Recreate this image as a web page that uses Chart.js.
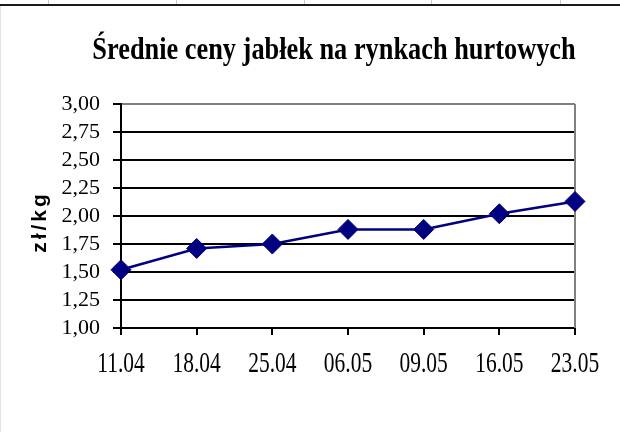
<!DOCTYPE html>
<html>
<head>
<meta charset="utf-8">
<script src="https://cdn.jsdelivr.net/npm/chart.js@4.4.1/dist/chart.umd.min.js"></script>
<style>
    html, body { margin: 0; padding: 0; background: #fff; }
    #wrap { position: relative; width: 620px; height: 432px; overflow: hidden; }
    #chart { position: absolute; left: 0; top: 0; }
    .rule { position: absolute; left: 0; top: 4px; width: 620px; height: 2px; background: #1a1a1a; }
    .cell { position: absolute; top: 0; width: 1px; height: 4px; background: #c8c8c8; }
    .side { position: absolute; left: 0; top: 6px; width: 1px; height: 426px; background: #e2e2e2; }
</style>
</head>
<body>
<div id="wrap">
    <div class="cell" style="left:48px"></div>
    <div class="cell" style="left:176px"></div>
    <div class="cell" style="left:304px"></div>
    <div class="cell" style="left:431px"></div>
    <div class="cell" style="left:560px"></div>
    <div class="rule"></div>
    <div class="side"></div>
    <canvas id="chart" width="620" height="432"></canvas>
</div>
<script>
const chartTitle = 'Średnie ceny jabłek na rynkach hurtowych';
const yAxisTitle = 'zł/kg';
const dates = ['11.04', '18.04', '25.04', '06.05', '09.05', '16.05', '23.05'];
const prices = [1.52, 1.71, 1.75, 1.88, 1.88, 2.02, 2.13];
const yMin = 1.00;
const yMax = 3.00;
const yStep = 0.25;

// Excel-style text is horizontally squeezed, so title, x labels and axis title are drawn here
const squeezedText = {
    id: 'squeezedText',
    afterDraw(chart) {
        const ctx = chart.ctx;
        const xs = chart.scales.x;
        const area = chart.chartArea;
        ctx.save();
        ctx.fillStyle = '#000';
        ctx.textAlign = 'center';
        ctx.textBaseline = 'alphabetic';

        ctx.font = '29px "Liberation Serif"';
        xs.ticks.forEach((t, i) => {
            ctx.save();
            ctx.translate(xs.getPixelForTick(i), area.bottom + 44);
            ctx.scale(0.74, 1);
            ctx.fillText(xs.getLabelForValue(t.value), 0, 0);
            ctx.restore();
        });

        ctx.font = 'bold 31px "Liberation Serif"';
        ctx.save();
        ctx.translate(334, 59);
        ctx.scale(0.85, 1);
        ctx.fillText(chartTitle, 0, 0);
        ctx.restore();

        ctx.font = 'bold 21px "Liberation Sans"';
        ctx.letterSpacing = '3px';
        ctx.save();
        ctx.translate(46, (area.top + area.bottom) / 2 + 6);
        ctx.rotate(-Math.PI / 2);
        ctx.fillText(yAxisTitle, 0, 0);
        ctx.restore();

        ctx.restore();
    },
    beforeDatasetsDraw(chart) {
        const ctx = chart.ctx;
        const area = chart.chartArea;
        ctx.save();
        ctx.strokeStyle = '#808080';
        ctx.lineWidth = 2;
        ctx.beginPath();
        ctx.moveTo(area.right, area.top);
        ctx.lineTo(area.right, area.bottom);
        ctx.stroke();
        ctx.restore();
    }
};

new Chart(document.getElementById('chart'), {
    type: 'line',
    data: {
        labels: dates,
        datasets: [{
            data: prices,
            borderColor: '#000080',
            backgroundColor: '#000080',
            borderWidth: 2.5,
            pointStyle: 'rectRot',
            pointRadius: 10,
            pointBorderWidth: 1,
            tension: 0,
            clip: false
        }]
    },
    options: {
        responsive: false,
        animation: false,
        layout: { padding: { left: 0, right: 45, top: 104, bottom: 0 } },
        plugins: {
            legend: { display: false },
            title: { display: false },
            tooltip: { enabled: false }
        },
        scales: {
            x: {
                offset: false,
                grid: { drawOnChartArea: false, drawTicks: true, tickLength: 7, color: '#000', lineWidth: 2 },
                border: { color: '#000', width: 2 },
                ticks: { color: 'rgba(0,0,0,0)', font: { family: 'Liberation Serif', size: 20 }, autoSkip: false, maxRotation: 0 },
                afterFit: s => { s.height = 104; }
            },
            y: {
                min: yMin,
                max: yMax,
                ticks: {
                    stepSize: yStep,
                    autoSkip: false,
                    color: '#000',
                    padding: 13,
                    font: { family: 'Liberation Serif', size: 22 },
                    callback: v => v.toFixed(2).replace('.', ',')
                },
                grid: {
                    color: c => (c.tick && c.tick.value === yMax) ? '#808080' : '#000',
                    tickColor: '#000',
                    lineWidth: 2,
                    tickLength: 8
                },
                border: { color: '#000', width: 2 },
                afterFit: s => { s.width = 121; }
            }
        }
    },
    plugins: [squeezedText]
});
</script>
</body>
</html>
